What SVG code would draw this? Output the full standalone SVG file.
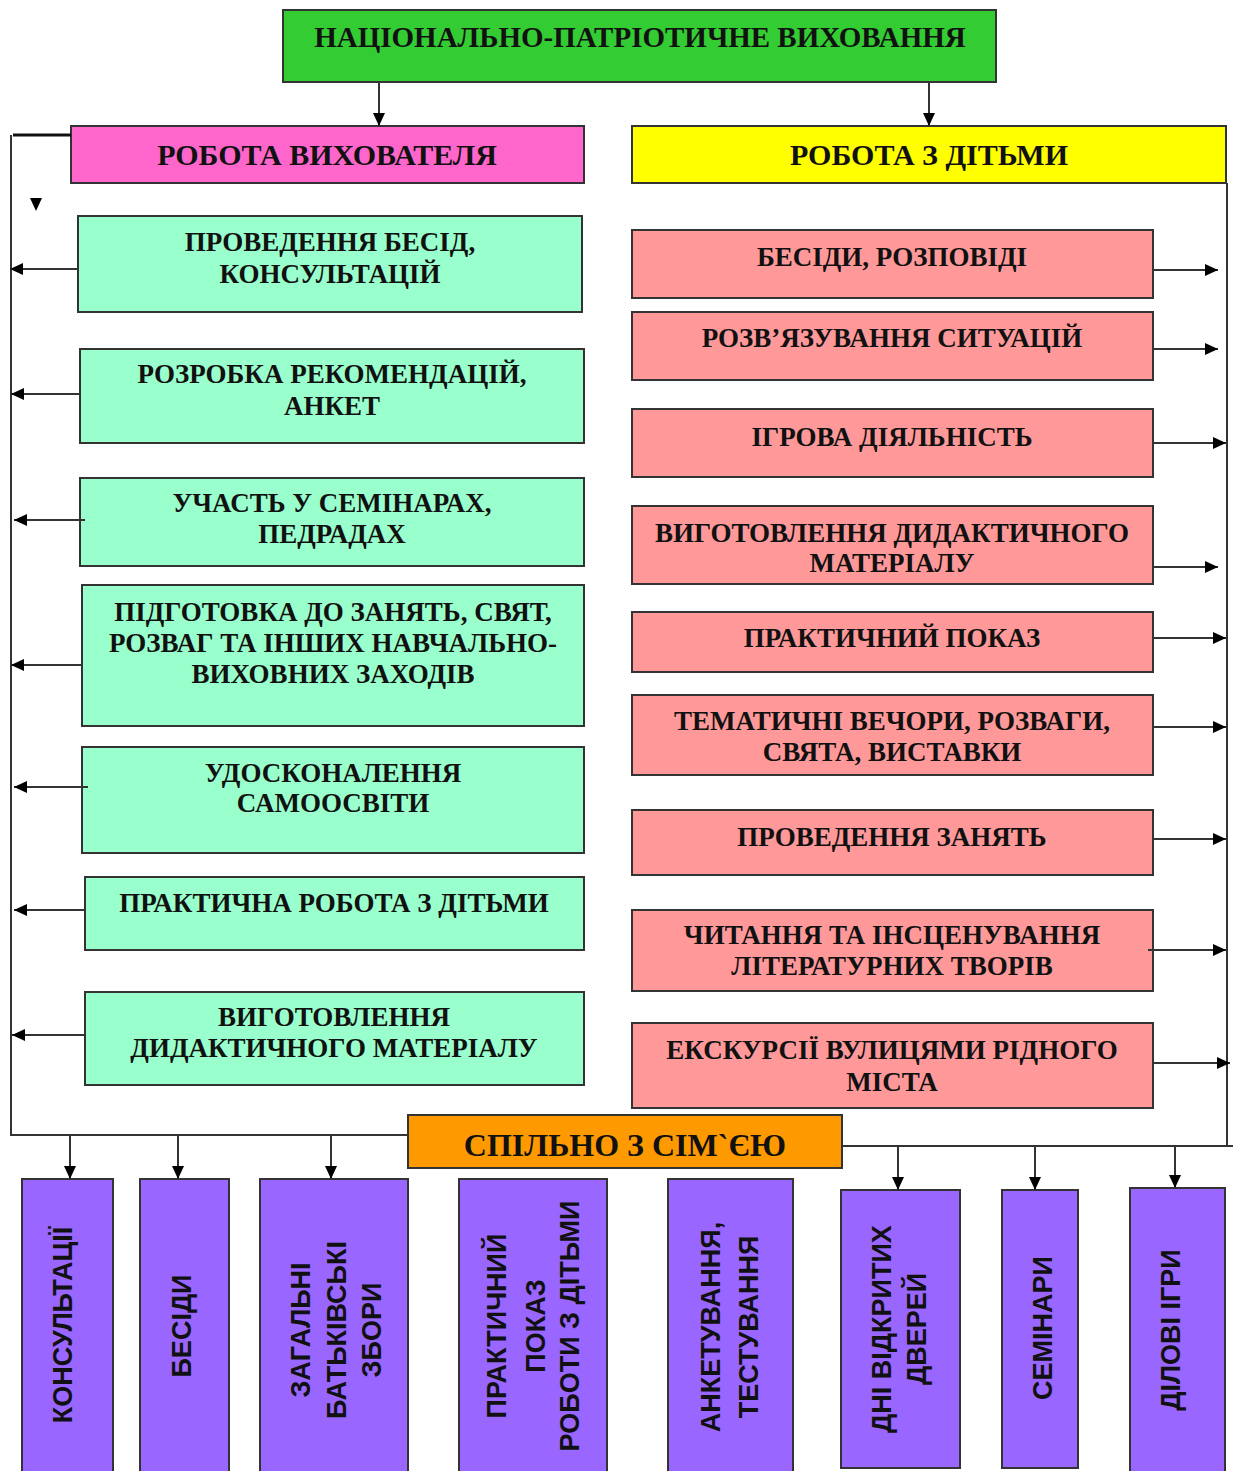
<svg xmlns="http://www.w3.org/2000/svg" width="1233" height="1471" viewBox="0 0 1233 1471">
<style>
.box{stroke:#333;stroke-width:2}
.green{fill:#33CC33}.pink{fill:#FF66CC}.yellow{fill:#FFFF00}.mint{fill:#99FFCC}.salmon{fill:#FF9999}.orange{fill:#FF9900}.purple{fill:#9966FF}
.t{font-family:"Liberation Serif","Times New Roman",serif;font-weight:bold;fill:#111;text-anchor:middle}
.h{font-size:30px}.n{font-size:27px}
.v{font-family:"Liberation Sans",Arial,sans-serif;font-weight:bold;font-size:27px;fill:#111;text-anchor:middle}
.c line,.c path{stroke:#333;stroke-width:2;fill:none}
</style>
<defs>
<marker id="ah" markerUnits="userSpaceOnUse" markerWidth="14" markerHeight="12" refX="13" refY="6" orient="auto">
<path d="M0,0 L13,6 L0,12 z" fill="#000"/>
</marker>
</defs>

<g id="title"><rect class="box green" x="283" y="10" width="713" height="72"/>
<text class="t" style="font-size:29px" x="640" y="47">НАЦІОНАЛЬНО-ПАТРІОТИЧНЕ ВИХОВАННЯ</text></g>

<g id="educator"><rect class="box pink" x="71" y="126" width="513" height="57"/>
<text class="t h" x="327" y="165">РОБОТА ВИХОВАТЕЛЯ</text></g>

<g id="children"><rect class="box yellow" x="632" y="126" width="594" height="57"/>
<text class="t h" x="929" y="165">РОБОТА З ДІТЬМИ</text></g>

<g id="m1"><rect class="box mint" x="78" y="216" width="504" height="96"/>
<text class="t n" x="330" y="251">ПРОВЕДЕННЯ БЕСІД,<tspan x="330" dy="32">КОНСУЛЬТАЦІЙ</tspan></text></g>
<g id="m2"><rect class="box mint" x="80" y="349" width="504" height="94"/>
<text class="t n" x="332" y="383">РОЗРОБКА РЕКОМЕНДАЦІЙ,<tspan x="332" dy="32">АНКЕТ</tspan></text></g>
<g id="m3"><rect class="box mint" x="80" y="478" width="504" height="88"/>
<text class="t n" x="332" y="512">УЧАСТЬ У СЕМІНАРАХ,<tspan x="332" dy="31">ПЕДРАДАХ</tspan></text></g>
<g id="m4"><rect class="box mint" x="82" y="585" width="502" height="141"/>
<text class="t n" x="333" y="621">ПІДГОТОВКА ДО ЗАНЯТЬ, СВЯТ,<tspan x="333" dy="31">РОЗВАГ ТА ІНШИХ НАВЧАЛЬНО-</tspan><tspan x="333" dy="31">ВИХОВНИХ ЗАХОДІВ</tspan></text></g>
<g id="m5"><rect class="box mint" x="82" y="747" width="502" height="106"/>
<text class="t n" x="333" y="782">УДОСКОНАЛЕННЯ<tspan x="333" dy="30">САМООСВІТИ</tspan></text></g>
<g id="m6"><rect class="box mint" x="85" y="877" width="499" height="73"/>
<text class="t n" x="334" y="912">ПРАКТИЧНА РОБОТА З ДІТЬМИ</text></g>
<g id="m7"><rect class="box mint" x="85" y="992" width="499" height="93"/>
<text class="t n" x="334" y="1026">ВИГОТОВЛЕННЯ<tspan x="334" dy="31">ДИДАКТИЧНОГО МАТЕРІАЛУ</tspan></text></g>

<g id="s1"><rect class="box salmon" x="632" y="230" width="521" height="68"/>
<text class="t n" x="892" y="266">БЕСІДИ, РОЗПОВІДІ</text></g>
<g id="s2"><rect class="box salmon" x="632" y="312" width="521" height="68"/>
<text class="t n" x="892" y="347">РОЗВ’ЯЗУВАННЯ СИТУАЦІЙ</text></g>
<g id="s3"><rect class="box salmon" x="632" y="409" width="521" height="68"/>
<text class="t n" x="892" y="446">ІГРОВА ДІЯЛЬНІСТЬ</text></g>
<g id="s4"><rect class="box salmon" x="632" y="506" width="521" height="78"/>
<text class="t n" x="892" y="542">ВИГОТОВЛЕННЯ ДИДАКТИЧНОГО<tspan x="892" dy="30">МАТЕРІАЛУ</tspan></text></g>
<g id="s5"><rect class="box salmon" x="632" y="612" width="521" height="60"/>
<text class="t n" x="892" y="647">ПРАКТИЧНИЙ ПОКАЗ</text></g>
<g id="s6"><rect class="box salmon" x="632" y="695" width="521" height="80"/>
<text class="t n" x="892" y="730">ТЕМАТИЧНІ ВЕЧОРИ, РОЗВАГИ,<tspan x="892" dy="31">СВЯТА, ВИСТАВКИ</tspan></text></g>
<g id="s7"><rect class="box salmon" x="632" y="810" width="521" height="65"/>
<text class="t n" x="892" y="846">ПРОВЕДЕННЯ ЗАНЯТЬ</text></g>
<g id="s8"><rect class="box salmon" x="632" y="910" width="521" height="81"/>
<text class="t n" x="892" y="944">ЧИТАННЯ ТА ІНСЦЕНУВАННЯ<tspan x="892" dy="31">ЛІТЕРАТУРНИХ ТВОРІВ</tspan></text></g>
<g id="s9"><rect class="box salmon" x="632" y="1023" width="521" height="85"/>
<text class="t n" x="892" y="1059">ЕКСКУРСІЇ ВУЛИЦЯМИ РІДНОГО<tspan x="892" dy="32">МІСТА</tspan></text></g>

<g id="family"><rect class="box orange" x="408" y="1115" width="434" height="53"/>
<text class="t" style="font-size:32px" x="625" y="1156">СПІЛЬНО З СІМ`ЄЮ</text></g>

<g id="p1"><rect class="box purple" x="22" y="1179" width="91" height="310"/>
<text class="v" transform="translate(67,1325) rotate(-90)" y="5">КОНСУЛЬТАЦІЇ</text></g>
<g id="p2"><rect class="box purple" x="140" y="1179" width="89" height="310"/>
<text class="v" transform="translate(184,1326) rotate(-90)" y="7">БЕСІДИ</text></g>
<g id="p3"><rect class="box purple" x="260" y="1179" width="148" height="310"/>
<text class="v" transform="translate(334,1330) rotate(-90)" y="-24">ЗАГАЛЬНІ<tspan x="0" dy="36">БАТЬКІВСЬКІ</tspan><tspan x="0" dy="35">ЗБОРИ</tspan></text></g>
<g id="p4"><rect class="box purple" x="459" y="1179" width="148" height="310"/>
<text class="v" transform="translate(533,1326) rotate(-90)" y="-27">ПРАКТИЧНИЙ<tspan x="0" dy="39">ПОКАЗ</tspan><tspan x="0" dy="34">РОБОТИ З ДІТЬМИ</tspan></text></g>
<g id="p5"><rect class="box purple" x="668" y="1179" width="125" height="310"/>
<text class="v" transform="translate(730,1327) rotate(-90)" y="-10">АНКЕТУВАННЯ,<tspan x="0" dy="38">ТЕСТУВАННЯ</tspan></text></g>
<g id="p6"><rect class="box purple" x="841" y="1190" width="119" height="278"/>
<text class="v" transform="translate(900,1329) rotate(-90)" y="-9">ДНІ ВІДКРИТИХ<tspan x="0" dy="35">ДВЕРЕЙ</tspan></text></g>
<g id="p7"><rect class="box purple" x="1002" y="1190" width="76" height="278"/>
<text class="v" transform="translate(1040,1328) rotate(-90)" y="12">СЕМІНАРИ</text></g>
<g id="p8"><rect class="box purple" x="1130" y="1188" width="95" height="300"/>
<text class="v" transform="translate(1177,1330) rotate(-90)" y="3">ДІЛОВІ ІГРИ</text></g>

<g id="connectors" class="c">
<line x1="379" y1="82" x2="379" y2="126" marker-end="url(#ah)"/>
<line x1="929" y1="82" x2="929" y2="126" marker-end="url(#ah)"/>
<line x1="13" y1="135" x2="71" y2="135" style="stroke-width:3;stroke:#111"/>
<line x1="11" y1="135" x2="11" y2="1135"/>
<line x1="10" y1="1135" x2="408" y2="1135"/>
<path d="M30,198 L42,198 L36,211 z" style="fill:#000;stroke:none"/>
<line x1="78" y1="269" x2="10" y2="269" marker-end="url(#ah)"/>
<line x1="80" y1="394" x2="11" y2="394" marker-end="url(#ah)"/>
<line x1="85" y1="520" x2="14" y2="520" marker-end="url(#ah)"/>
<line x1="82" y1="665" x2="11" y2="665" marker-end="url(#ah)"/>
<line x1="88" y1="787" x2="14" y2="787" marker-end="url(#ah)"/>
<line x1="85" y1="910" x2="14" y2="910" marker-end="url(#ah)"/>
<line x1="85" y1="1035" x2="12" y2="1035" marker-end="url(#ah)"/>
<line x1="1227" y1="183" x2="1227" y2="1146"/>
<line x1="842" y1="1146" x2="1233" y2="1146"/>
<line x1="1153" y1="270" x2="1218" y2="270" marker-end="url(#ah)"/>
<line x1="1153" y1="349" x2="1218" y2="349" marker-end="url(#ah)"/>
<line x1="1153" y1="443" x2="1226" y2="443" marker-end="url(#ah)"/>
<line x1="1153" y1="567" x2="1218" y2="567" marker-end="url(#ah)"/>
<line x1="1153" y1="638" x2="1226" y2="638" marker-end="url(#ah)"/>
<line x1="1153" y1="727" x2="1226" y2="727" marker-end="url(#ah)"/>
<line x1="1153" y1="839" x2="1226" y2="839" marker-end="url(#ah)"/>
<line x1="1148" y1="950" x2="1226" y2="950" marker-end="url(#ah)"/>
<line x1="1153" y1="1063" x2="1230" y2="1063" marker-end="url(#ah)"/>
<line x1="70" y1="1135" x2="70" y2="1179" marker-end="url(#ah)"/>
<line x1="178" y1="1135" x2="178" y2="1179" marker-end="url(#ah)"/>
<line x1="331" y1="1135" x2="331" y2="1179" marker-end="url(#ah)"/>
<line x1="898" y1="1146" x2="898" y2="1190" marker-end="url(#ah)"/>
<line x1="1035" y1="1146" x2="1035" y2="1190" marker-end="url(#ah)"/>
<line x1="1175" y1="1146" x2="1175" y2="1188" marker-end="url(#ah)"/>
</g>
</svg>
